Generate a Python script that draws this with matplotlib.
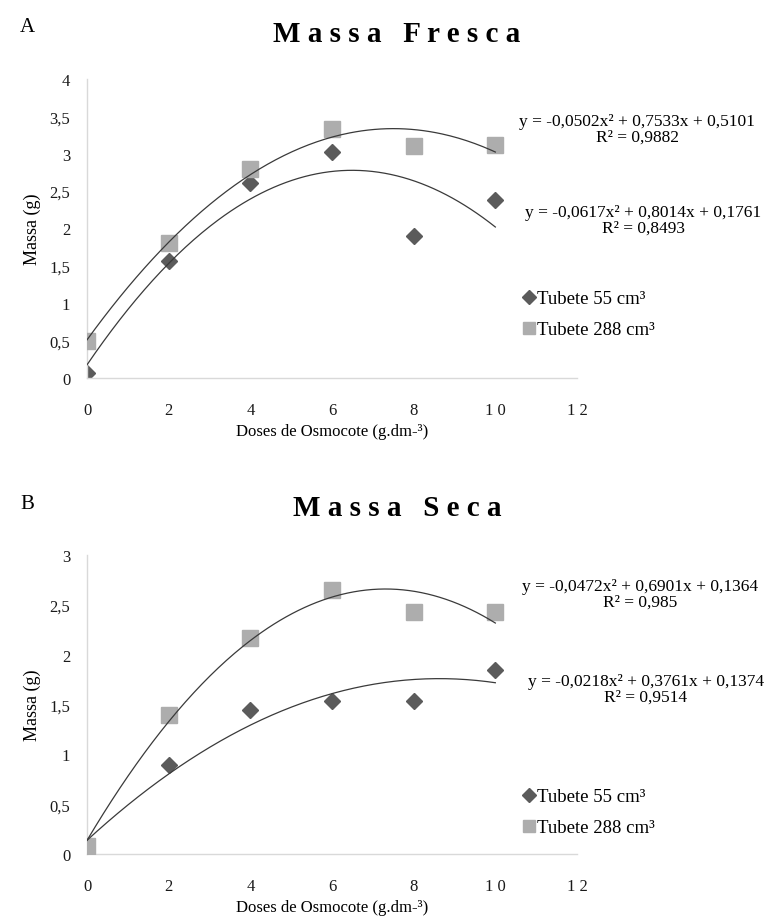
import numpy as np
import matplotlib
matplotlib.use("Agg")
import matplotlib.pyplot as plt

# ---------------------------------------------------------------
# Data
# ---------------------------------------------------------------
doses = [0, 2, 4, 6, 8, 10]

fresca_55 = [0.07, 1.57, 2.61, 3.03, 1.90, 2.38]
fresca_288 = [0.50, 1.80, 2.79, 3.33, 3.11, 3.12]
seca_55 = [0.05, 0.89, 1.44, 1.54, 1.54, 1.85]
seca_288 = [0.08, 1.39, 2.17, 2.65, 2.43, 2.43]

# quadratic trendline coefficients printed on the chart (a, b, c)
coef_fresca_55 = [-0.0617, 0.8014, 0.1761]
coef_fresca_288 = [-0.0502, 0.7533, 0.5101]
coef_seca_55 = [-0.0218, 0.3761, 0.1374]
coef_seca_288 = [-0.0472, 0.6901, 0.1364]

eq_fresca_288 = ["y = -0,0502x² + 0,7533x + 0,5101", "R² = 0,9882"]
eq_fresca_55 = ["y = -0,0617x² + 0,8014x + 0,1761", "R² = 0,8493"]
eq_seca_288 = ["y = -0,0472x² + 0,6901x + 0,1364", "R² = 0,985"]
eq_seca_55 = ["y = -0,0218x² + 0,3761x + 0,1374", "R² = 0,9514"]

x_ticks = [0, 2, 4, 6, 8, 10, 12]
x_ticklabels = ["0", "2", "4", "6", "8", "1 0", "1 2"]
yticks_fresca = [0, 0.5, 1, 1.5, 2, 2.5, 3, 3.5, 4]
yticks_seca = [0, 0.5, 1, 1.5, 2, 2.5, 3]

labels = ["Tubete 55 cm³", "Tubete 288 cm³"]

# ---------------------------------------------------------------
# Style
# ---------------------------------------------------------------
plt.rcParams["font.family"] = ["Liberation Serif", "DejaVu Serif"]
DARK = "#5b5b5b"
LIGHT = "#adadad"
LINE = "#3a3a3a"
SPINE = "#d9d9d9"

W, H = 769, 920
fig = plt.figure(figsize=(W / 100, H / 100), dpi=100)


def fx(px):
    return px / W


def fy(py):
    return 1 - py / H


def panel(ax, y55, y288, c55, c288, yticks):
    ax.plot(doses, y55, linestyle="none", marker="D", markersize=8.5,
            color=DARK, zorder=2, label=labels[0])
    ax.plot(doses, y288, linestyle="none", marker="s", markersize=11,
            color=LIGHT, zorder=3, label=labels[1])
    xs = np.linspace(doses[0], doses[-1], 200)
    ax.plot(xs, np.polyval(c55, xs), color=LINE, lw=0.9, zorder=4)
    ax.plot(xs, np.polyval(c288, xs), color=LINE, lw=0.9, zorder=4)

    ax.set_xlim(0, 12)
    ax.set_ylim(0, yticks[-1])
    ax.set_xticks(x_ticks)
    ax.set_xticklabels(x_ticklabels)
    ax.set_yticks(yticks)
    ax.set_yticklabels([f"{t:g}".replace(".", ",") for t in yticks])
    ax.tick_params(length=0, labelsize=12, colors="#1a1a1a")
    ax.tick_params(axis="y", pad=12)
    ax.tick_params(axis="x", pad=17)
    for s in ("top", "right"):
        ax.spines[s].set_visible(False)
    for s in ("left", "bottom"):
        ax.spines[s].set_color(SPINE)
        ax.spines[s].set_linewidth(1.0)
    ax.set_ylabel("Massa (g)", fontsize=13)
    ax.set_xlabel("Doses de Osmocote (g.dm-³)", fontsize=12)
    ax.yaxis.set_label_coords(-0.094, 0.5)
    ax.xaxis.set_label_coords(0.5, -0.150)


axA = fig.add_axes([fx(87), fy(379), fx(577 - 87), 299 / H])
axB = fig.add_axes([fx(87), fy(855), fx(577 - 87), 299 / H])

panel(axA, fresca_55, fresca_288, coef_fresca_55, coef_fresca_288, yticks_fresca)
panel(axB, seca_55, seca_288, coef_seca_55, coef_seca_288, yticks_seca)

# panel letters and titles
fig.text(fx(20), fy(27), "A", fontsize=15, va="center", ha="left")
fig.text(fx(20), fy(505), "B", fontsize=15, va="center", ha="left")
fig.text(fx(397), fy(34), "M a s s a   F r e s c a", fontsize=21,
         fontweight="bold", ha="center", va="center")
fig.text(fx(397), fy(509), "M a s s a   S e c a", fontsize=21,
         fontweight="bold", ha="center", va="center")


# equations
def equation(lines, x, y):
    fig.text(fx(x), fy(y), lines[0], fontsize=12.5, ha="center", va="center")
    fig.text(fx(x), fy(y + 16), lines[1], fontsize=12.5, ha="center", va="center")


equation(eq_fresca_288, 637, 122)
equation(eq_fresca_55, 643, 213)
equation(eq_seca_288, 640, 587)
equation(eq_seca_55, 646, 682)

# legends
for ax, ytop in ((axA, 291), (axB, 789)):
    ax.legend(loc="upper left", bbox_to_anchor=(fx(523), fy(ytop)),
              bbox_transform=fig.transFigure, frameon=False, fontsize=13.5,
              markerscale=0.85, handlelength=0.6, handletextpad=0.15,
              labelspacing=0.75, borderpad=0, borderaxespad=0)

fig.savefig("out.png", dpi=100)
